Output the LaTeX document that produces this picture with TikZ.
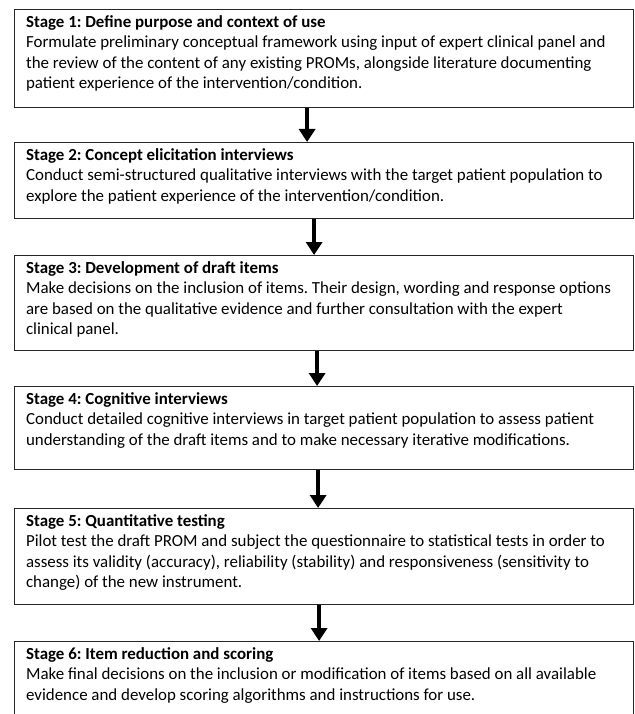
\documentclass[tikz,border=0pt]{standalone}
\usepackage{fontspec}
\setmainfont{Carlito}
\usetikzlibrary{arrows.meta}
\frenchspacing

% box text: height, title, body
\newcommand{\stagetext}[3]{\parbox[t][#1][t]{596pt}{\raggedright
    \fontsize{16.9}{20.5}\selectfont\textbf{#2}\\#3}}

\begin{document}
\begin{tikzpicture}[x=1pt,y=-1pt,
    stagebox/.style={draw=black!85, line width=1.2pt, fill=white,
        anchor=north west, inner xsep=11.5pt, inner ysep=6pt},
    flow/.style={line width=3.5pt, -{Triangle[width=16pt,length=13pt]}}]
    \useasboundingbox (0,0) rectangle (634,714); % page size

    \node [stagebox] (s1) at (14,9)
    {\stagetext{86pt}{Stage 1: Define purpose and context of use}
     {Formulate preliminary conceptual framework using input of expert clinical panel and\\
      the review of the content of any existing PROMs, alongside literature documenting\\
      patient experience of the intervention/condition.}};

    \node [stagebox] (s2) at (14,142)
    {\stagetext{64pt}{Stage 2: Concept elicitation interviews}
     {Conduct semi-structured qualitative interviews with the target patient population to\\
      explore the patient experience of the intervention/condition.}};

    \node [stagebox] (s3) at (14,255)
    {\stagetext{83pt}{Stage 3: Development of draft items}
     {Make decisions on the inclusion of items. Their design, wording and response options\\
      are based on the qualitative evidence and further consultation with the expert\\
      clinical panel.}};

    \node [stagebox] (s4) at (14,386)
    {\stagetext{71pt}{Stage 4: Cognitive interviews}
     {Conduct detailed cognitive interviews in target patient population to assess patient\\
      understanding of the draft items and to make necessary iterative modifications.}};

    \node [stagebox] (s5) at (14,508)
    {\stagetext{84pt}{Stage 5: Quantitative testing}
     {Pilot test the draft PROM and subject the questionnaire to statistical tests in order to\\
      assess its validity (accuracy), reliability (stability) and responsiveness (sensitivity to\\
      change) of the new instrument.}};

    % last box runs off the bottom of the page
    \node [stagebox] (s6) at (14,641)
    {\stagetext{90pt}{Stage 6: Item reduction and scoring}
     {Make final decisions on the inclusion or modification of items based on all available\\
      evidence and develop scoring algorithms and instructions for use.}};

    % arrows between the stages
    \foreach \a/\b/\dx in {s1/s2/-17, s2/s3/-10, s3/s4/-7, s4/s5/-6, s5/s6/-5}
        \draw [flow] ([xshift=\dx pt]\a.south) -- ([xshift=\dx pt]\b.north);
\end{tikzpicture}
\end{document}
